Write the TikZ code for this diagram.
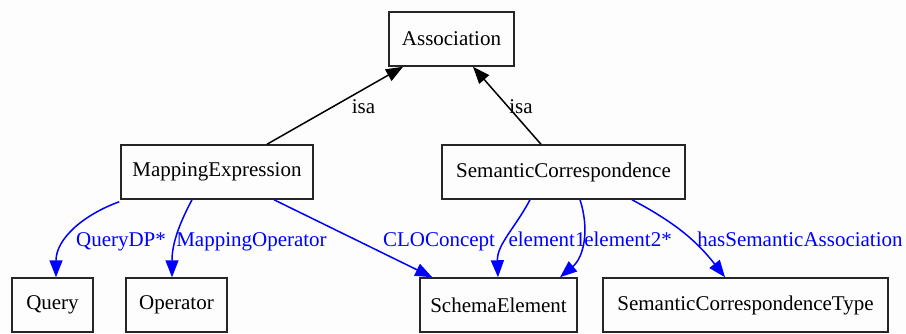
\documentclass[tikz,border=0pt]{standalone}
\usepackage{fontspec}
\setmainfont{Liberation Serif}
\usetikzlibrary{arrows.meta}
\definecolor{paper}{RGB}{252,253,252}
\begin{document}
\begin{tikzpicture}[x=1pt,y=-1pt,
  cls/.style={draw=black!85, line width=1.5pt, minimum height=54pt, inner sep=0pt,
    font=\fontsize{21}{24}\selectfont},
  tip/.style={-{Triangle[length=17pt,width=13pt]}},
  isa/.style={draw=black, line width=1.5pt, tip},
  rel/.style={draw=blue, line width=1.5pt, tip},
  isalbl/.style={font=\fontsize{21}{24}\selectfont, inner sep=0pt, anchor=base},
  rellbl/.style={isalbl, text=blue}]
  \fill[paper] (0,0) rectangle (906,333);
  \useasboundingbox (0,0) rectangle (906,333);

  % classes
  \node[cls, minimum width=125pt] (assoc) at (451.5,39) {Association};
  \node[cls, minimum width=192pt] (me) at (217,172) {MappingExpression};
  \node[cls, minimum width=243pt] (sc) at (563.5,172) {SemanticCorrespondence};
  \node[cls, minimum width=81pt]  (query) at (52.5,305) {Query};
  \node[cls, minimum width=101pt] (op) at (176.5,305) {Operator};
  \node[cls, minimum width=157pt] (se) at (498.5,305) {SchemaElement};
  \node[cls, minimum width=285pt] (sct) at (745.5,305) {SemanticCorrespondenceType};

  % generalisation
  \draw[isa] ([xshift=50pt]me.north) -- ([xshift=-48.5pt]assoc.south);
  \draw[isa] ([xshift=-22.5pt]sc.north) -- ([xshift=21.5pt]assoc.south);
  \node[isalbl] (l1) at (363.5,113) {isa};
  \node[isalbl] (l2) at (521,113) {isa};

  % properties
  \draw[rel] ([xshift=-1pt,yshift=-2pt]me.south west) to[out=200,in=90] ([xshift=3.5pt]query.north);
  \draw[rel] ([xshift=-25pt]me.south) to[out=-118,in=90] ([xshift=-4.5pt]op.north);
  \draw[rel] ([xshift=57pt]me.south) -- ([xshift=13pt]se.north west);
  \draw[rel] ([xshift=-33.5pt]sc.south) to[out=-118,in=92] ([xshift=-0.5pt]se.north);
  \draw[rel] ([xshift=16.5pt]sc.south) to[out=-72,in=40] ([xshift=61.5pt]se.north);
  \draw[rel] ([xshift=68.5pt]sc.south) to[out=-28,in=128] ([xshift=-20.5pt]sct.north);

  \node[rellbl] (q)  at (121,246) {QueryDP*};
  \node[rellbl] (mo) at (251.5,246) {MappingOperator};
  \node[rellbl] (cc) at (439,246) {CLOConcept};
  \node[rellbl] (e1) at (547,246) {element1};
  \node[rellbl] (e2) at (628,246) {element2*};
  \node[rellbl] (hs) at (800,246) {hasSemanticAssociation};
\end{tikzpicture}
\end{document}
